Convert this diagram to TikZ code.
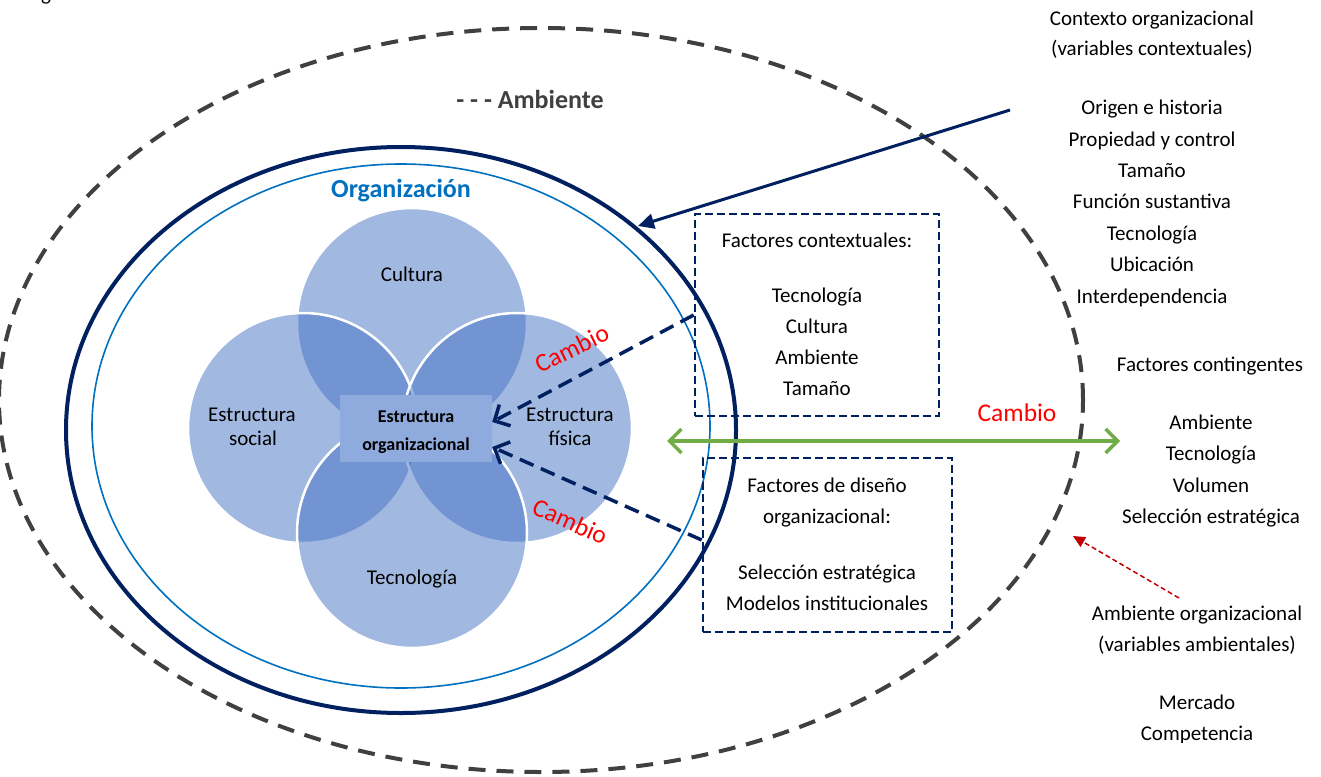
\documentclass[tikz,border=0pt]{standalone}
\usepackage{fontspec}
\setmainfont{Carlito}
\usetikzlibrary{arrows.meta}
\definecolor{navy}{HTML}{002060}
\definecolor{orgblue}{HTML}{0070C0}
\definecolor{accent}{HTML}{4472C4}
\definecolor{boxfill}{HTML}{8FAADC}
\definecolor{grayd}{HTML}{404040}
\definecolor{greenA}{HTML}{70AD47}
\definecolor{darkred}{HTML}{C00000}
\begin{document}
\begin{tikzpicture}[x=1pt,y=-1pt,
 txt/.style={font=\fontsize{21}{25}\selectfont, text height=15pt, text depth=2pt, inner sep=0pt},
 hdr/.style={font=\fontsize{26}{30}\selectfont\bfseries, text height=18pt, text depth=2pt, inner sep=0pt},
 obold/.style={font=\fontsize{18}{22}\selectfont\bfseries, text height=13pt, text depth=2pt, inner sep=0pt},
 cambio/.style={font=\fontsize{25.5}{30}\selectfont, text=red, text height=18pt, text depth=2pt, inner sep=0pt},
 venn/.style={circle, minimum size=230pt, inner sep=0pt, fill=accent, fill opacity=0.5, draw=white, line width=2.5pt},
 fbox/.style={draw=navy, line width=2.6pt, dash pattern=on 8pt off 4pt, inner sep=0pt},
 darr/.style={draw=navy, line width=3.5pt, dash pattern=on 15pt off 8pt, -{Straight Barb[length=12pt,width=24pt]}},
]
\useasboundingbox (0,0) rectangle (1321,776);
\fill[white] (0,0) rectangle (1321,776);

% cut-off caption fragment
\node[txt, anchor=base] (capfrag) at (46,0.5) {g};

% environment ellipses
\draw[grayd, line width=4pt, dash pattern=on 17pt off 11pt] (541,400) ellipse [x radius=542pt, y radius=372pt];
\draw[navy, line width=4pt] (401,430) ellipse [x radius=335pt, y radius=283pt];
\draw[orgblue, line width=1.6pt] (401,426) ellipse [x radius=309pt, y radius=262pt];

% venn circles
\node[venn] (cult) at (412,323) {};
\node[venn] (social) at (303,428) {};
\node[venn] (fisica) at (517,428) {};
\node[venn] (tecn) at (412,533) {};

% central box
\node[fill=boxfill, minimum width=152pt, minimum height=67pt, inner sep=0pt] (org) at (416,428.5) {};
\node[obold] (org1) at (416,417) {Estructura};
\node[obold] (org2) at (416,445) {organizacional};

% circle labels
\node[txt] (lcult) at (412,275) {Cultura};
\node[txt] (lsoc1) at (252,415) {Estructura};
\node[txt] (lsoc2) at (253,439) {social};
\node[txt] (lfis1) at (570,415) {Estructura};
\node[txt] (lfis2) at (570,439) {física};
\node[txt] (ltec) at (412,578) {Tecnología};

% headers
\node[hdr, text=grayd] (amb) at (530,100) {- - - Ambiente};
\node[hdr, text=orgblue] (orgn) at (401,189) {Organización};

% factor boxes
\node[fbox, minimum width=244pt, minimum height=202pt] (box1) at (817,315) {};
\node[txt] (b1a) at (817,241) {Factores contextuales:};
\node[txt] (b1b) at (817,296) {Tecnología};
\node[txt] (b1c) at (817,327) {Cultura};
\node[txt] (b1d) at (817,358) {Ambiente};
\node[txt] (b1e) at (817,389) {Tamaño};

\node[fbox, minimum width=249pt, minimum height=174pt] (box2) at (827.5,545) {};
\node[txt] (b2a) at (827,486) {Factores de diseño};
\node[txt] (b2b) at (827,517) {organizacional:};
\node[txt] (b2c) at (827,573) {Selección estratégica};
\node[txt] (b2d) at (827,604) {Modelos institucionales};

% right column
\node[txt] (c1) at (1152,19) {Contexto organizacional};
\node[txt] (c2) at (1152,49) {(variables contextuales)};
\node[txt] (c3) at (1152,108) {Origen e historia};
\node[txt] (c4) at (1152,140) {Propiedad y control};
\node[txt] (c5) at (1152,171) {Tamaño};
\node[txt] (c6) at (1152,202) {Función sustantiva};
\node[txt] (c7) at (1152,234) {Tecnología};
\node[txt] (c8) at (1152,265) {Ubicación};
\node[txt] (c9) at (1152,297) {Interdependencia};

\node[txt] (f1) at (1210,365) {Factores contingentes};
\node[txt] (f2) at (1211,423) {Ambiente};
\node[txt] (f3) at (1211,454) {Tecnología};
\node[txt] (f4) at (1211,486) {Volumen};
\node[txt] (f5) at (1211,517) {Selección estratégica};

\node[txt] (a1) at (1197,614) {Ambiente organizacional};
\node[txt] (a2) at (1197,645) {(variables ambientales)};
\node[txt] (a3) at (1197,703) {Mercado};
\begin{scope}
\clip (0,0) rectangle (1321,742);
\node[txt] (a4) at (1197,734) {Competencia};
\end{scope}

% connectors
\coordinate (ctxS) at (1010,110);
\coordinate (ctxE) at (638,226);
\draw[navy, line width=3pt, -{Triangle[length=16pt,width=15pt]}] (ctxS) -- (ctxE);

\draw[darr] (box1.west) -- ([yshift=6.5pt]org.east);
\draw[darr] ([yshift=5pt]box2.west) -- ([yshift=-18.5pt]org.east);

\coordinate (gL) at (667,441);
\coordinate (gR) at (1120,441);
\draw[greenA, line width=3.5pt, {Straight Barb[length=12pt,width=24pt]}-{Straight Barb[length=12pt,width=24pt]}] (gL) -- (gR);

\coordinate (ambS) at (1179,598);
\coordinate (ambE) at (1073,536);
\draw[darkred, line width=1.5pt, dash pattern=on 5pt off 3pt, -{Triangle[length=12pt,width=11pt]}] (ambS) -- (ambE);

% change labels
\node[cambio, rotate=26] (cam1) at (572,349) {Cambio};
\node[cambio, rotate=-24] (cam2) at (570,522) {Cambio};
\node[cambio] (cam3) at (1017,413) {Cambio};
\end{tikzpicture}
\end{document}
